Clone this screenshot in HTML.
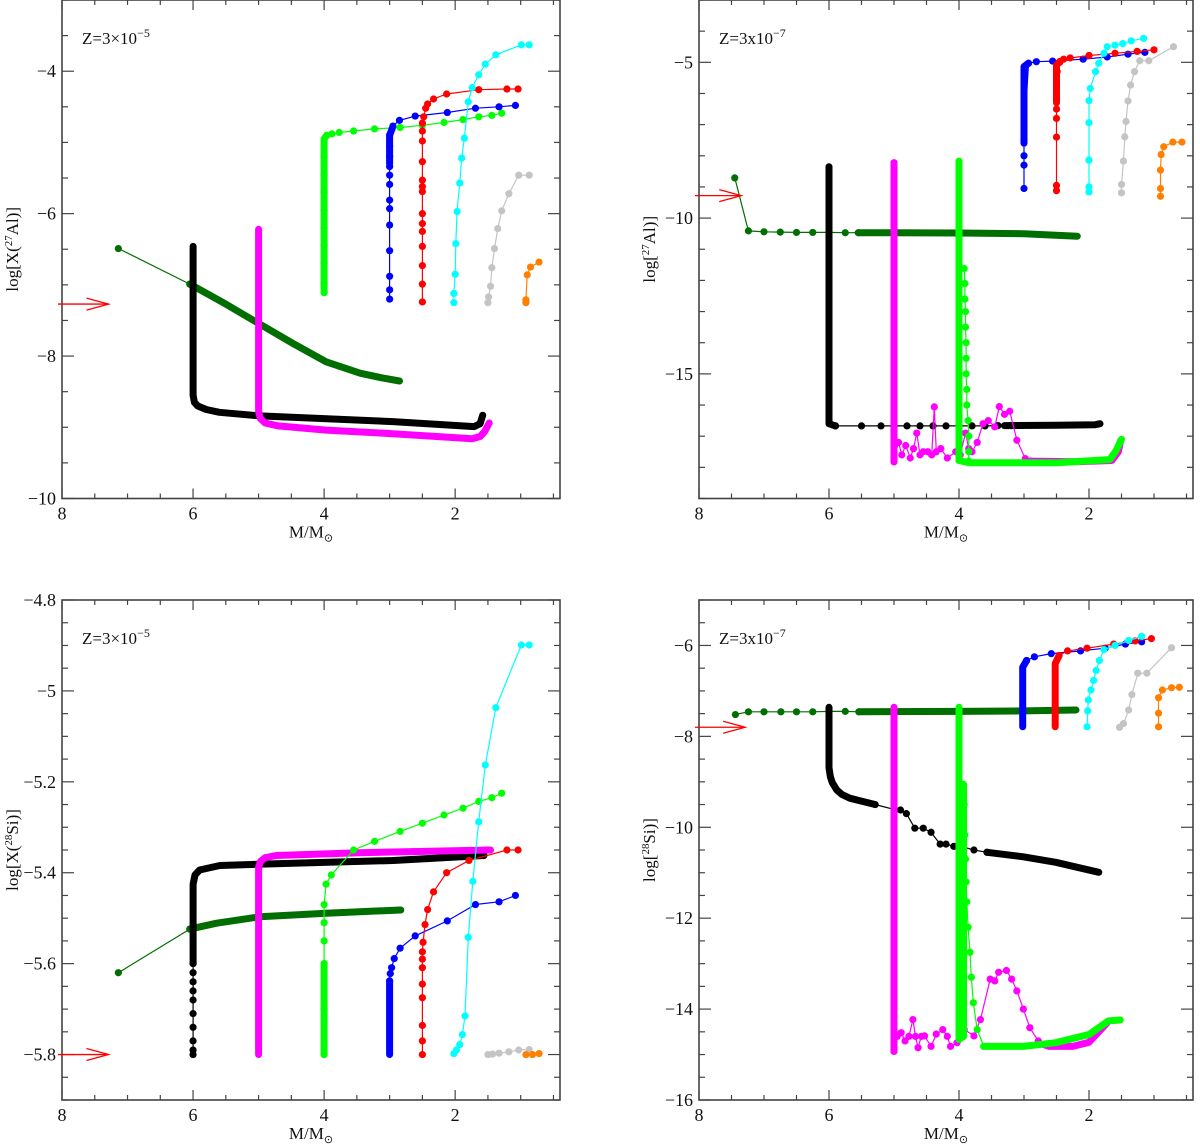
<!DOCTYPE html>
<html><head><meta charset="utf-8"><style>
html,body{margin:0;padding:0;background:#fff;width:1200px;height:1146px;overflow:hidden}
svg text{font-family:"Liberation Serif",serif;fill:#111}
</style></head><body>
<svg id="fig" width="1200" height="1146" viewBox="0 0 1200 1146" xmlns="http://www.w3.org/2000/svg"></svg>
<script>
// ---------- data (M/Msun, log abundance) ----------
// Top-left: log X(27Al), Z=3e-5
const tl_dkgreen_sparse=[[7.14,-6.49],[6.05,-6.99]];
const tl_dkgreen_dense=[[6.05,-6.99],[5.5,-7.27],[5.04,-7.52],[4.48,-7.82],[3.97,-8.08],[3.45,-8.24],[3.1,-8.31],[2.85,-8.35]];
const tl_black_dense=[[6.0,-6.46],[6.0,-8.55],[5.98,-8.65],[5.93,-8.7],[5.8,-8.75],[5.6,-8.79],[4.98,-8.84],[2.95,-8.92],[1.71,-8.99],[1.62,-8.95],[1.58,-8.83]];
const tl_magenta_dense=[[5.0,-6.22],[5.0,-8.78],[4.97,-8.88],[4.9,-8.94],[4.7,-8.98],[3.97,-9.04],[2.95,-9.09],[1.74,-9.16],[1.62,-9.13],[1.55,-9.06],[1.48,-8.94]];
const tl_lime_dense=[[4.0,-7.11],[4.0,-4.95],[3.96,-4.9]];
const tl_lime_sparse=[[4.0,-7.11],[4.0,-6.98],[4.0,-6.7],[4.0,-6.45],[4.0,-6.2],[4.0,-5.95],[4.0,-5.7],[4.0,-5.45],[4.0,-5.2],[3.96,-4.9],[3.88,-4.88],[3.77,-4.86],[3.55,-4.84],[3.23,-4.81],[2.84,-4.79],[2.5,-4.76],[2.17,-4.72],[1.88,-4.68],[1.64,-4.64],[1.44,-4.62],[1.29,-4.59]];
const tl_blue_sparse=[[3.0,-7.2],[3.0,-7.07],[3.0,-6.88],[3.0,-6.52],[3.0,-6.16],[3.0,-5.93],[3.0,-5.81],[3.0,-5.59],[3.0,-5.46],[3.0,-5.34],[3.0,-5.2],[3.0,-5.05],[3.0,-4.9],[2.95,-4.77],[2.85,-4.69],[2.61,-4.63],[2.12,-4.58],[1.69,-4.52],[1.33,-4.5],[1.08,-4.48]];
const tl_blue_dense=[[3.0,-5.3],[3.0,-4.9],[2.96,-4.8]];
const tl_red_sparse=[[2.5,-7.24],[2.5,-6.99],[2.5,-6.73],[2.5,-6.46],[2.5,-6.25],[2.5,-6.14],[2.5,-6.0],[2.5,-5.69],[2.5,-5.62],[2.5,-5.53],[2.5,-5.27],[2.5,-4.98],[2.5,-4.84],[2.5,-4.73],[2.48,-4.64],[2.45,-4.52],[2.42,-4.46],[2.33,-4.39],[2.13,-4.32],[1.64,-4.26],[1.21,-4.25],[1.04,-4.25]];
const tl_cyan_sparse=[[2.02,-7.25],[2.02,-7.12],[2.0,-6.85],[1.99,-6.42],[1.97,-5.97],[1.93,-5.57],[1.9,-5.22],[1.86,-4.94],[1.8,-4.43],[1.74,-4.23],[1.64,-4.05],[1.54,-3.9],[1.38,-3.77],[0.99,-3.63],[0.87,-3.63]];
const tl_gray_sparse=[[1.5,-7.25],[1.49,-7.17],[1.46,-7.02],[1.44,-6.76],[1.4,-6.49],[1.35,-6.21],[1.29,-5.96],[1.18,-5.72],[1.03,-5.46],[0.87,-5.46]];
const tl_orange_sparse=[[0.92,-7.25],[0.92,-7.21],[0.9,-6.86],[0.85,-6.75],[0.72,-6.68]];
const tl_arrow=[7.29,-7.27];

// Top-right: log(27Al), Z=3e-7
const tr_dkgreen_sparse=[[7.45,-8.71],[7.24,-10.41],[7.0,-10.44],[6.75,-10.45],[6.5,-10.46],[6.25,-10.46],[6.0,-10.46],[5.75,-10.47],[5.55,-10.47]];
const tr_dkgreen_dense=[[5.55,-10.47],[4.0,-10.48],[3.0,-10.5],[2.18,-10.58]];
const tr_black_dense=[[6.0,-8.35],[6.0,-16.6],[5.9,-16.67]];
const tr_black_sparse=[[5.9,-16.67],[5.5,-16.67],[5.2,-16.67],[5.0,-16.67],[4.8,-16.67],[4.6,-16.67],[4.4,-16.67],[4.2,-16.67],[4.0,-16.67],[3.8,-16.67],[3.6,-16.67],[3.4,-16.66],[3.2,-16.66]];
const tr_black_dense2=[[3.3,-16.66],[2.5,-16.65],[1.9,-16.63],[1.83,-16.6]];
const tr_magenta_dense=[[5.0,-8.22],[5.0,-17.83]];
const tr_magenta_sparse=[[5.0,-17.7],[4.93,-17.2],[4.88,-17.6],[4.82,-17.3],[4.75,-17.7],[4.7,-17.4],[4.65,-16.9],[4.6,-17.6],[4.55,-17.5],[4.48,-17.5],[4.42,-17.6],[4.38,-16.06],[4.35,-17.5],[4.28,-17.4],[4.18,-17.7],[4.05,-17.5],[3.98,-17.6],[3.9,-16.9],[3.85,-17.4],[3.8,-17.5],[3.72,-17.2],[3.63,-16.6],[3.55,-16.5],[3.45,-16.7],[3.38,-16.05],[3.3,-16.3],[3.22,-16.2],[3.11,-17.13],[2.98,-17.72],[2.9,-17.8]];
const tr_magenta_dense2=[[2.9,-17.8],[2.2,-17.82],[1.65,-17.78],[1.55,-17.5],[1.51,-17.13]];
const tr_lime_dense=[[4.0,-8.17],[4.0,-17.78],[3.9,-17.83],[3.83,-17.85],[2.5,-17.85],[1.68,-17.75],[1.58,-17.45],[1.5,-17.1]];
const tr_lime_sparse=[[3.92,-11.62],[3.91,-12.1],[3.91,-12.6],[3.9,-13.0],[3.9,-13.5],[3.89,-14.0],[3.89,-14.5],[3.89,-15.0],[3.88,-15.5],[3.88,-16.0],[3.86,-16.5],[3.85,-17.0],[3.85,-17.5],[3.85,-17.8]];
const tr_blue_dense=[[3.0,-7.6],[3.0,-5.14],[2.93,-5.03]];
const tr_blue_sparse=[[3.0,-9.05],[3.0,-8.3],[3.0,-8.0],[3.0,-7.5],[2.93,-5.03],[2.81,-4.98],[2.56,-4.96],[2.09,-4.9],[1.72,-4.83],[1.4,-4.74],[1.14,-4.68]];
const tr_red_sparse=[[2.5,-9.12],[2.5,-8.95],[2.5,-7.4],[2.5,-6.8],[2.5,-6.5],[2.5,-6.2],[2.5,-5.9],[2.49,-5.3],[2.45,-5.0],[2.39,-4.9],[2.29,-4.86],[2.0,-4.78],[1.6,-4.71],[1.26,-4.65],[1.0,-4.6]];
const tr_red_dense=[[2.5,-6.3],[2.5,-5.1],[2.45,-4.97]];
const tr_cyan_sparse=[[2.0,-9.16],[2.0,-9.0],[2.0,-8.14],[2.0,-6.94],[2.0,-6.23],[1.98,-5.84],[1.9,-5.3],[1.85,-5.03],[1.77,-4.71],[1.72,-4.5],[1.6,-4.45],[1.48,-4.4],[1.35,-4.31],[1.16,-4.23]];
const tr_gray_sparse=[[1.5,-9.19],[1.5,-8.92],[1.47,-8.17],[1.45,-7.39],[1.43,-6.9],[1.4,-6.24],[1.36,-5.73],[1.3,-5.3],[1.22,-4.95],[1.08,-4.95],[0.7,-4.5]];
const tr_orange_sparse=[[0.9,-9.3],[0.9,-9.05],[0.9,-8.46],[0.89,-7.96],[0.85,-7.71],[0.71,-7.56],[0.57,-7.56]];
const tr_arrow=[7.35,-9.28];

// Bottom-left: log X(28Si), Z=3e-5
const bl_dkgreen_sparse=[[7.14,-5.62],[6.05,-5.524]];
const bl_dkgreen_dense=[[6.05,-5.524],[5.64,-5.511],[4.98,-5.497],[3.97,-5.489],[2.83,-5.482]];
const bl_black_sparse=[[6.0,-5.8],[6.0,-5.79],[6.0,-5.77],[6.0,-5.74],[6.0,-5.71],[6.0,-5.68],[6.0,-5.66],[6.0,-5.64],[6.0,-5.62],[6.0,-5.6]];
const bl_black_dense=[[6.0,-5.6],[6.0,-5.425],[5.97,-5.405],[5.9,-5.394],[5.59,-5.384],[4.48,-5.379],[2.95,-5.373],[1.56,-5.362]];
const bl_magenta_dense=[[5.0,-5.8],[5.0,-5.388],[4.97,-5.375],[4.9,-5.367],[4.73,-5.362],[3.46,-5.356],[1.46,-5.35]];
const bl_lime_dense=[[4.0,-5.8],[4.0,-5.6]];
const bl_lime_sparse=[[4.0,-5.8],[4.0,-5.7],[4.0,-5.6],[4.0,-5.55],[4.0,-5.51],[4.0,-5.47],[3.97,-5.425],[3.89,-5.405],[3.55,-5.35],[3.23,-5.331],[2.84,-5.309],[2.5,-5.291],[2.17,-5.273],[1.88,-5.258],[1.64,-5.243],[1.44,-5.235],[1.29,-5.225]];
const bl_blue_dense=[[3.0,-5.8],[3.0,-5.638]];
const bl_blue_sparse=[[3.0,-5.638],[2.99,-5.622],[2.97,-5.609],[2.93,-5.589],[2.84,-5.566],[2.61,-5.539],[2.12,-5.506],[1.69,-5.47],[1.33,-5.464],[1.08,-5.45]];
const bl_red_sparse=[[2.5,-5.8],[2.5,-5.77],[2.5,-5.736],[2.5,-5.675],[2.5,-5.645],[2.5,-5.609],[2.5,-5.59],[2.5,-5.574],[2.49,-5.553],[2.46,-5.514],[2.42,-5.481],[2.33,-5.442],[2.13,-5.4],[1.79,-5.373],[1.21,-5.35],[1.04,-5.35]];
const bl_cyan_sparse=[[2.02,-5.798],[1.98,-5.79],[1.93,-5.778],[1.89,-5.756],[1.85,-5.715],[1.8,-5.542],[1.73,-5.419],[1.64,-5.288],[1.54,-5.163],[1.38,-5.037],[0.99,-4.899],[0.87,-4.899]];
const bl_gray_sparse=[[1.5,-5.8],[1.43,-5.799],[1.33,-5.797],[1.18,-5.794],[1.03,-5.79],[0.87,-5.789]];
const bl_orange_sparse=[[0.92,-5.8],[0.82,-5.8],[0.72,-5.798]];
const bl_arrow=[7.29,-5.8];

// Bottom-right: log(28Si), Z=3e-7
const br_dkgreen_sparse=[[7.44,-7.52],[7.24,-7.46],[7.0,-7.46],[6.74,-7.46],[6.5,-7.46],[6.25,-7.46],[6.0,-7.45],[5.75,-7.45],[5.54,-7.46]];
const br_dkgreen_dense=[[5.54,-7.46],[4.0,-7.45],[3.0,-7.44],[2.2,-7.42]];
const br_black_dense=[[6.0,-7.36],[6.0,-8.69],[5.98,-8.88],[5.95,-9.02],[5.88,-9.18],[5.8,-9.28],[5.68,-9.36],[5.54,-9.41],[5.29,-9.5]];
const br_black_sparse=[[5.29,-9.5],[4.99,-9.61],[4.9,-9.62],[4.81,-9.7],[4.68,-10.02],[4.55,-10.02],[4.43,-10.11],[4.29,-10.37],[4.2,-10.37],[4.08,-10.42],[3.95,-10.43],[3.77,-10.5],[3.57,-10.55]];
const br_black_dense2=[[3.57,-10.55],[3.01,-10.65],[2.51,-10.77],[1.85,-10.99]];
const br_magenta_dense=[[5.0,-7.36],[5.0,-14.93]];
const br_magenta_sparse=[[5.0,-14.93],[4.95,-14.6],[4.89,-14.52],[4.83,-14.7],[4.77,-14.6],[4.71,-14.23],[4.67,-14.6],[4.63,-14.85],[4.58,-14.6],[4.53,-14.59],[4.43,-14.82],[4.35,-14.55],[4.25,-14.45],[4.18,-14.6],[4.13,-14.82],[4.03,-14.74],[3.92,-14.45],[3.77,-14.59],[3.67,-14.23],[3.52,-13.34],[3.45,-13.38],[3.39,-13.19],[3.27,-13.15],[3.19,-13.34],[3.11,-13.6],[3.01,-14.0],[2.91,-14.41],[2.78,-14.7],[2.7,-14.78]];
const br_magenta_dense2=[[2.7,-14.78],[2.61,-14.82],[2.25,-14.82],[2.0,-14.73],[1.72,-14.3]];
const br_lime_dense=[[4.0,-7.36],[4.0,-14.67],[3.93,-14.6],[3.93,-9.06]];
const br_lime_sparse=[[3.93,-9.06],[3.92,-9.5],[3.91,-10.17],[3.9,-10.7],[3.89,-11.2],[3.88,-11.64],[3.86,-12.2],[3.83,-12.75],[3.81,-13.3],[3.78,-13.86],[3.72,-14.45],[3.62,-14.82]];
const br_lime_dense2=[[3.62,-14.82],[3.01,-14.82],[2.51,-14.74],[2.0,-14.56],[1.7,-14.26],[1.52,-14.24]];
const br_blue_dense=[[3.02,-7.79],[3.02,-6.48],[2.96,-6.33]];
const br_blue_sparse=[[2.96,-6.33],[2.84,-6.25],[2.58,-6.18],[2.13,-6.12],[1.75,-6.06],[1.44,-5.97],[1.19,-5.92]];
const br_red_dense=[[2.52,-7.79],[2.52,-6.4],[2.46,-6.22]];
const br_red_sparse=[[2.46,-6.22],[2.33,-6.12],[2.03,-6.06],[1.62,-5.97],[1.29,-5.9],[1.04,-5.85]];
const br_cyan_sparse=[[2.03,-7.79],[2.02,-7.44],[2.01,-7.2],[1.97,-6.98],[1.93,-6.77],[1.89,-6.55],[1.84,-6.33],[1.77,-6.09],[1.6,-6.0],[1.39,-5.89],[1.19,-5.8]];
const br_gray_sparse=[[1.53,-7.8],[1.47,-7.72],[1.39,-7.42],[1.34,-7.08],[1.25,-6.61],[1.11,-6.61],[0.73,-6.05]];
const br_orange_sparse=[[0.93,-7.79],[0.93,-7.49],[0.93,-7.15],[0.87,-6.98],[0.73,-6.93],[0.61,-6.92]];
const br_arrow=[7.29,-7.8];

// tick labels
const tl_yticks=[-4,-6,-8,-10];
const tr_yticks=[-5,-10,-15];
const bl_yticks=[-4.8,-5,-5.2,-5.4,-5.6,-5.8];
const br_yticks=[-6,-8,-10,-12,-14,-16];
const xticks=[8,6,4,2];

const C={dk:'#006e00',lime:'#00ff00',mag:'#ff00ff',blk:'#000000',blue:'#0000ff',red:'#ff0000',cyan:'#00ffff',gray:'#c4c4c4',orange:'#ff8000'};
const NS='http://www.w3.org/2000/svg';
const svg=document.getElementById('fig');
function mk(tag,attrs,parent){const e=document.createElementNS(NS,tag);for(const k in attrs)e.setAttribute(k,attrs[k]);(parent||svg).appendChild(e);return e;}

function panel(id,x0,x1,y0,y1,vmin,vmax,yMajor,yMinor,yticks,ylabelHTML,zText,series,arrow){
  const g=mk('g',{});
  
  
  const mMax=8,mMin=0.4;
  const X=m=>x0+(mMax-m)*(x1-x0)/(mMax-mMin);
  const Y=v=>y1-(v-vmin)*(y1-y0)/(vmax-vmin);
  const fr=mk('rect',{x:x0,y:y0,width:x1-x0,height:y1-y0,fill:'none',stroke:'#444','stroke-width':1.6},g);
  
  
  for(let m=8;m>mMin;m-=0.5){const major=Math.abs(m-Math.round(m/2)*2)<1e-6;const L=major?10:5;const px=X(m);
    mk('line',{x1:px,y1:y1,x2:px,y2:y1-L,stroke:'#444','stroke-width':1.2},g);
    mk('line',{x1:px,y1:y0,x2:px,y2:y0+L,stroke:'#444','stroke-width':1.2},g);}
  xticks.forEach(m=>{const t=mk('text',{x:X(m),y:y1+21,'font-size':18,'text-anchor':'middle'},g);t.textContent=m;
    
    });
  const n=Math.round((vmax-vmin)/yMinor);
  for(let i=0;i<=n;i++){const v=vmin+i*yMinor;const r=v/yMajor;const major=Math.abs(r-Math.round(r))<1e-6;const L=major?12:6;const py=Y(v);
    mk('line',{x1:x0,y1:py,x2:x0+L,y2:py,stroke:'#444','stroke-width':1.2},g);
    mk('line',{x1:x1,y1:py,x2:x1-L,y2:py,stroke:'#444','stroke-width':1.2},g);}
  yticks.forEach(v=>{const t=mk('text',{x:x0-6,y:Y(v)+6,'font-size':18,'text-anchor':'end'},g);t.textContent=String(v).replace('-','\u2212');
    
    });
  const xt=mk('text',{x:(x0+x1)/2,y:y1+39,'font-size':17,'text-anchor':'middle'},g);
  xt.innerHTML='M/M<tspan font-size="11" dy="4">\u2299</tspan>';
  
  
  const yt=mk('text',{x:0,y:0,'font-size':17,'text-anchor':'middle',transform:`translate(${x0-44},${(y0+y1)/2}) rotate(-90)`},g);
  yt.innerHTML=ylabelHTML;
  
  
  const zt=mk('text',{x:x0+20,y:y0+44,'font-size':17},g);
  zt.innerHTML=zText;
  
  
  series.forEach(s=>{
    const sg=mk('g',{},g);
    
    
    const pts=s.pts.map(p=>X(p[0]).toFixed(1)+','+Y(p[1]).toFixed(1)).join(' ');
    if(s.dense){
      mk('polyline',{points:pts,fill:'none',stroke:s.c,'stroke-width':7,'stroke-linecap':'round','stroke-linejoin':'round'},sg);
    }else{
      mk('polyline',{points:pts,fill:'none',stroke:s.c,'stroke-width':1.2},sg);
      s.pts.forEach(p=>{const c=mk('circle',{cx:X(p[0]),cy:Y(p[1]),r:3.6,fill:s.c},sg);
        
        });
    }
  });
  const ag=mk('g',{stroke:'#ff0000','stroke-width':1.3,fill:'none'},g);
  
  
  const ay=Y(arrow[1]),ax=X(arrow[0]);
  mk('line',{x1:x0-4,y1:ay,x2:ax,y2:ay},ag);
  mk('polyline',{points:`${ax-22},${ay-6} ${ax},${ay} ${ax-22},${ay+6}`},ag);
}
const S=(name,c,pts,dense)=>({name,c,pts,dense});

panel('top-left',62,560,0,498.5,-10,-3,2,0.5,tl_yticks,'log[X(<tspan font-size="11" dy="-6">27</tspan><tspan dy="6">Al)]</tspan>','Z=3\u00d710<tspan font-size="12" dy="-7">\u22125</tspan>',[
 S('series-7msun',C.dk,tl_dkgreen_sparse,false),S('series-7msun-dense',C.dk,tl_dkgreen_dense,true),
 S('series-6msun',C.blk,tl_black_dense,true),S('series-5msun',C.mag,tl_magenta_dense,true),
 S('series-4msun',C.lime,tl_lime_sparse,false),S('series-4msun-dense',C.lime,tl_lime_dense,true),
 S('series-3msun',C.blue,tl_blue_sparse,false),S('series-3msun-dense',C.blue,tl_blue_dense,true),
 S('series-2p5msun',C.red,tl_red_sparse,false),S('series-2msun',C.cyan,tl_cyan_sparse,false),
 S('series-1p5msun',C.gray,tl_gray_sparse,false),S('series-1msun',C.orange,tl_orange_sparse,false)],tl_arrow);

panel('top-right',699,1193,0,498.5,-19,-3,5,1,tr_yticks,'log[<tspan font-size="11" dy="-6">27</tspan><tspan dy="6">Al)]</tspan>','Z=3x10<tspan font-size="12" dy="-7">\u22127</tspan>',[
 S('series-7msun',C.dk,tr_dkgreen_sparse,false),S('series-7msun-dense',C.dk,tr_dkgreen_dense,true),
 S('series-6msun',C.blk,tr_black_dense,true),S('series-6msun-tail',C.blk,tr_black_sparse,false),S('series-6msun-end',C.blk,tr_black_dense2,true),
 S('series-5msun',C.mag,tr_magenta_dense,true),S('series-5msun-noise',C.mag,tr_magenta_sparse,false),S('series-5msun-end',C.mag,tr_magenta_dense2,true),
 S('series-4msun',C.lime,tr_lime_dense,true),S('series-4msun-branch',C.lime,tr_lime_sparse,false),
 S('series-3msun',C.blue,tr_blue_sparse,false),S('series-3msun-dense',C.blue,tr_blue_dense,true),
 S('series-2p5msun',C.red,tr_red_sparse,false),S('series-2p5msun-dense',C.red,tr_red_dense,true),
 S('series-2msun',C.cyan,tr_cyan_sparse,false),S('series-1p5msun',C.gray,tr_gray_sparse,false),S('series-1msun',C.orange,tr_orange_sparse,false)],tr_arrow);

panel('bottom-left',62,560,600,1100,-5.9,-4.8,0.2,0.05,bl_yticks,'log[X(<tspan font-size="11" dy="-6">28</tspan><tspan dy="6">Si)]</tspan>','Z=3\u00d710<tspan font-size="12" dy="-7">\u22125</tspan>',[
 S('series-7msun',C.dk,bl_dkgreen_sparse,false),S('series-7msun-dense',C.dk,bl_dkgreen_dense,true),
 S('series-6msun',C.blk,bl_black_sparse,false),S('series-6msun-dense',C.blk,bl_black_dense,true),
 S('series-5msun',C.mag,bl_magenta_dense,true),
 S('series-4msun',C.lime,bl_lime_sparse,false),S('series-4msun-dense',C.lime,bl_lime_dense,true),
 S('series-3msun',C.blue,bl_blue_sparse,false),S('series-3msun-dense',C.blue,bl_blue_dense,true),
 S('series-2p5msun',C.red,bl_red_sparse,false),S('series-2msun',C.cyan,bl_cyan_sparse,false),
 S('series-1p5msun',C.gray,bl_gray_sparse,false),S('series-1msun',C.orange,bl_orange_sparse,false)],bl_arrow);

panel('bottom-right',699,1193,600,1100,-16,-5,2,0.5,br_yticks,'log[<tspan font-size="11" dy="-6">28</tspan><tspan dy="6">Si)]</tspan>','Z=3x10<tspan font-size="12" dy="-7">\u22127</tspan>',[
 S('series-7msun',C.dk,br_dkgreen_sparse,false),S('series-7msun-dense',C.dk,br_dkgreen_dense,true),
 S('series-6msun',C.blk,br_black_dense,true),S('series-6msun-mid',C.blk,br_black_sparse,false),S('series-6msun-end',C.blk,br_black_dense2,true),
 S('series-5msun',C.mag,br_magenta_dense,true),S('series-5msun-noise',C.mag,br_magenta_sparse,false),S('series-5msun-end',C.mag,br_magenta_dense2,true),
 S('series-4msun',C.lime,br_lime_dense,true),S('series-4msun-branch',C.lime,br_lime_sparse,false),S('series-4msun-end',C.lime,br_lime_dense2,true),
 S('series-3msun',C.blue,br_blue_sparse,false),S('series-3msun-dense',C.blue,br_blue_dense,true),
 S('series-2p5msun',C.red,br_red_sparse,false),S('series-2p5msun-dense',C.red,br_red_dense,true),
 S('series-2msun',C.cyan,br_cyan_sparse,false),S('series-1p5msun',C.gray,br_gray_sparse,false),S('series-1msun',C.orange,br_orange_sparse,false)],br_arrow);
</script>
</body></html>
